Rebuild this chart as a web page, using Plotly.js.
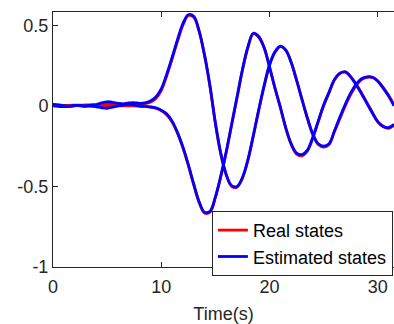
<!DOCTYPE html>
<html>
<head>
<meta charset="utf-8">
<script src="https://cdn.plot.ly/plotly-3.0.1.min.js"></script>
<style>html,body{margin:0;padding:0;background:#fff;}#chart{width:394px;height:324px;}</style>
</head>
<body>
<div id="chart"></div>
<script>
// Time axis (s)
var time = [0,0.5,1,1.5,2,2.5,3,3.5,4,4.5,5,5.5,6,6.5,7,7.5,8,8.5,9,9.5,10,10.5,11,11.5,12,12.5,13,13.5,14,14.5,15,15.5,16,16.5,17,17.5,18,18.5,19,19.5,20,20.5,21,21.5,22,22.5,23,23.5,24,24.5,25,25.5,26,26.5,27,27.5,28,28.5,29,29.5,30,30.5,31,31.5];

// State 1 (rises first)
var realState1 = [0.005,0.004,0.003,0.003,0.004,0.004,0.005,0.005,0.006,0.007,0.008,0.009,0.010,0.010,0.011,0.011,0.012,0.014,0.022,0.045,0.095,0.185,0.29,0.40,0.50,0.56,0.55,0.46,0.31,0.12,-0.11,-0.30,-0.43,-0.50,-0.505,-0.45,-0.34,-0.19,-0.03,0.12,0.25,0.33,0.368,0.345,0.27,0.16,0.04,-0.08,-0.18,-0.24,-0.256,-0.24,-0.16,-0.08,0.0,0.07,0.125,0.162,0.177,0.176,0.155,0.115,0.065,0.005];
var estState1  = [0.008,0.006,0.0,-0.004,0.0,0.003,0.0,0.004,0.008,0.018,0.025,0.022,0.015,0.012,0.018,0.02,0.015,0.018,0.03,0.055,0.105,0.195,0.30,0.41,0.51,0.565,0.555,0.465,0.315,0.125,-0.105,-0.295,-0.425,-0.495,-0.50,-0.445,-0.335,-0.185,-0.025,0.125,0.255,0.335,0.37,0.345,0.27,0.16,0.04,-0.075,-0.175,-0.235,-0.25,-0.235,-0.155,-0.07,0.01,0.08,0.133,0.168,0.18,0.177,0.153,0.11,0.06,0.0];

// State 2 (falls first)
var realState2 = [0.0,0.0,0.0,0.0,0.001,0.001,0.0,0.0,-0.001,-0.001,-0.002,-0.002,-0.001,0.0,0.0,-0.001,-0.002,-0.004,-0.008,-0.015,-0.03,-0.055,-0.10,-0.17,-0.26,-0.37,-0.49,-0.60,-0.665,-0.66,-0.57,-0.44,-0.29,-0.12,0.05,0.22,0.36,0.447,0.425,0.36,0.24,0.11,-0.01,-0.14,-0.24,-0.30,-0.31,-0.28,-0.20,-0.10,0.0,0.08,0.16,0.20,0.21,0.18,0.135,0.08,0.02,-0.04,-0.10,-0.13,-0.14,-0.12];
var estState2  = [0.002,-0.004,-0.005,-0.002,0.002,0.0,-0.003,-0.002,-0.006,-0.012,-0.015,-0.008,0.0,0.005,0.01,0.005,-0.002,-0.004,-0.007,-0.013,-0.027,-0.05,-0.095,-0.165,-0.255,-0.365,-0.485,-0.595,-0.66,-0.655,-0.565,-0.435,-0.285,-0.115,0.055,0.225,0.365,0.45,0.43,0.362,0.242,0.112,-0.008,-0.135,-0.235,-0.293,-0.303,-0.275,-0.195,-0.095,0.005,0.085,0.163,0.203,0.21,0.18,0.13,0.075,0.015,-0.045,-0.098,-0.127,-0.135,-0.115];

var legendNames = ['Real states','Estimated states'];
var xTickVals = [0,10,20,30];
var yTickVals = [-1,-0.5,0,0.5];
var yTickText = ['-1','-0.5','0','0.5'];

var red = '#ff0000', blue = '#0000ff';
var traces = [
  {x: time, y: realState1, mode:'lines', line:{color:red, width:2.8, shape:'spline'}, name: legendNames[0], showlegend:true},
  {x: time, y: realState2, mode:'lines', line:{color:red, width:2.8, shape:'spline'}, name: legendNames[0], showlegend:false},
  {x: time, y: estState1, mode:'lines', line:{color:blue, width:2.8, shape:'spline'}, name: legendNames[1], showlegend:true},
  {x: time, y: estState2, mode:'lines', line:{color:blue, width:2.8, shape:'spline'}, name: legendNames[1], showlegend:false}
];

var axisColor = '#262626';
var layout = {
  width: 394, height: 324,
  margin: {l:53, r:0, t:12, b:57, pad:0},
  paper_bgcolor:'#fff', plot_bgcolor:'#fff',
  font: {family:'"Liberation Sans", Arial, sans-serif', size:18, color:axisColor},
  showlegend: true,
  legend: {x:0.466, y:0.22, xanchor:'left', yanchor:'top', bgcolor:'#fff', bordercolor:axisColor, borderwidth:1,
           font:{size:18, color:'#000'}, tracegroupgap:0, itemwidth:30},
  xaxis: {range:[0,31.5], tickvals:xTickVals, ticks:'inside', ticklen:5, tickcolor:axisColor,
          showline:true, linecolor:axisColor, linewidth:1, mirror:'ticks', showgrid:false, zeroline:false,
          ticklabelstandoff:3,
          title:{text:'Time(s)', standoff:12, font:{size:18}}, automargin:false},
  yaxis: {range:[-1,0.582], tickvals:yTickVals, ticktext:yTickText, ticks:'inside', ticklen:5, tickcolor:axisColor,
          showline:true, linecolor:axisColor, linewidth:1, mirror:false, showgrid:false, zeroline:false, automargin:false}
};

Plotly.newPlot('chart', traces, layout, {displayModeBar:false, staticPlot:true});
</script>
</body>
</html>
